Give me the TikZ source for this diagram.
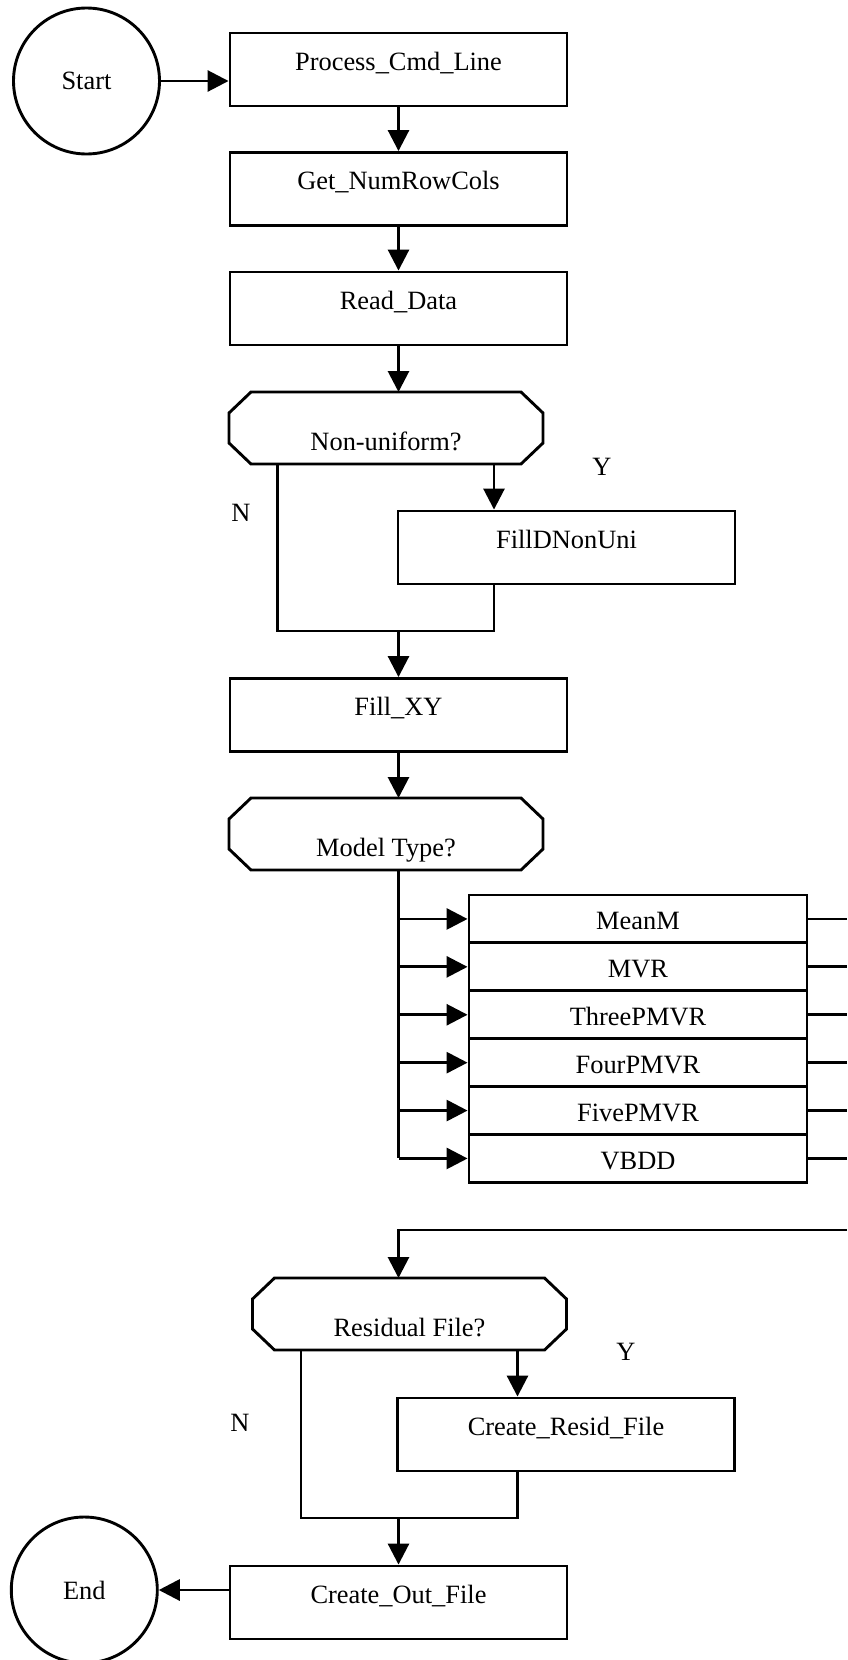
\documentclass[tikz,border=0pt]{standalone}
\usepackage{fontspec}
\setmainfont{Liberation Serif}
\usetikzlibrary{arrows.meta,calc}
\newcommand{\decoutline}[1]{%
  \draw[ln] ([xshift=22pt]#1.north west) -- ([xshift=-22pt]#1.north east)
    -- ([yshift=-21pt]#1.north east) -- ([yshift=21pt]#1.south east)
    -- ([xshift=-22pt]#1.south east) -- ([xshift=22pt]#1.south west)
    -- ([yshift=21pt]#1.south west) -- ([yshift=-21pt]#1.north west) -- cycle;}
\begin{document}
\begin{tikzpicture}[x=1pt,y=-1pt,
  every node/.style={font=\fontsize{26.4}{30}\selectfont},
  ln/.style={line width=2.9pt},
  arr/.style={ln,-{Triangle[length=21pt,width=21pt]}},
  procbox/.style={draw,ln,rectangle,minimum width=337pt,minimum height=73pt,inner sep=0pt,text height=17pt,text depth=16pt},
  rowbox/.style={draw,ln,rectangle,minimum width=338pt,minimum height=47.9pt,inner sep=0pt,text height=22pt,text depth=0pt},
  decbox/.style={rectangle,inner sep=0pt,outer sep=0pt,minimum width=314pt,minimum height=72pt,text height=45pt,text depth=0pt},
  term/.style={draw,ln,circle,minimum size=146pt,inner sep=0pt},
  lbl/.style={inner sep=0pt,text height=17pt,text depth=0pt}]
\useasboundingbox[fill=white] (0,0) rectangle (847,1660);
\clip (0,0) rectangle (847,1660);

% nodes
\node[term] (start) at (86.5,81) {Start};
\node[procbox] (proc) at (398.5,69.5) {Process\_Cmd\_Line};
\node[procbox] (get) at (398.5,189) {Get\_NumRowCols};
\node[procbox] (read) at (398.5,308.5) {Read\_Data};
\node[decbox] (dec1) at (386,428) {Non-uniform?};
\decoutline{dec1}
\node[procbox] (fillnu) at (566.5,547.5) {FillDNonUni};
\node[lbl] (y1) at (602,467) {Y};
\node[lbl] (n1) at (241,513) {N};
\node[procbox] (fillxy) at (398.5,715) {Fill\_XY};
\node[decbox] (dec2) at (386,834) {Model Type?};
\decoutline{dec2}
\node[rowbox] (r1) at (638,918.95) {MeanM};
\node[rowbox] (r2) at (638,966.85) {MVR};
\node[rowbox] (r3) at (638,1014.75) {ThreePMVR};
\node[rowbox] (r4) at (638,1062.65) {FourPMVR};
\node[rowbox] (r5) at (638,1110.55) {FivePMVR};
\node[rowbox] (r6) at (638,1158.45) {VBDD};
\node[decbox] (dec3) at (409.5,1314) {Residual File?};
\decoutline{dec3}
\node[lbl] (y3) at (626,1352) {Y};
\node[lbl] (n3) at (240,1423) {N};
\node[procbox] (resid) at (566,1434.5) {Create\_Resid\_File};
\node[procbox] (outb) at (398.5,1602.5) {Create\_Out\_File};
\node[term] (endc) at (84.3,1590) {End};

% helper coordinates
\coordinate (d1n) at ([xshift=-108.5pt]dec1.south);
\coordinate (d1y) at ([xshift=108pt]dec1.south);
\coordinate (m1) at (398.5,631);
\coordinate (d3n) at ([xshift=-108.5pt]dec3.south);
\coordinate (d3y) at ([xshift=108pt]dec3.south);
\coordinate (m3) at (398.5,1518);
\coordinate (edge) at (847,1230);

% connectors
\draw[arr] (start.east) -- (start.east -| proc.west);
\draw[arr] (proc) -- (get);
\draw[arr] (get) -- (read);
\draw[arr] (read.south) -- (read.south |- dec1.north);
\draw[arr] (d1y) -- (d1y |- fillnu.north);
\draw[ln] (d1n) |- (d1y |- m1) -- (d1y |- fillnu.south);
\draw[arr] (m1) -- (fillxy.north);
\draw[arr] (fillxy.south) -- (fillxy.south |- dec2.north);
\draw[ln] (fillxy.south |- dec2.south) -- (fillxy.south |- r6.west);
\foreach \r in {r1,r2,r3,r4,r5,r6}{
  \draw[arr] (fillxy.south |- \r.west) -- (\r.west);
  \draw[ln] (\r.east) -- (\r.east -| edge);
}
\draw[arr] (edge) -| (outb.north |- dec3.north);
\draw[arr] (d3y) -- (d3y |- resid.north);
\draw[ln] (d3n) |- (d3y |- m3) -- (d3y |- resid.south);
\draw[arr] (m3) -- (outb.north);
\draw[arr] (outb.west |- endc.east) -- (endc.east);
\end{tikzpicture}
\end{document}
